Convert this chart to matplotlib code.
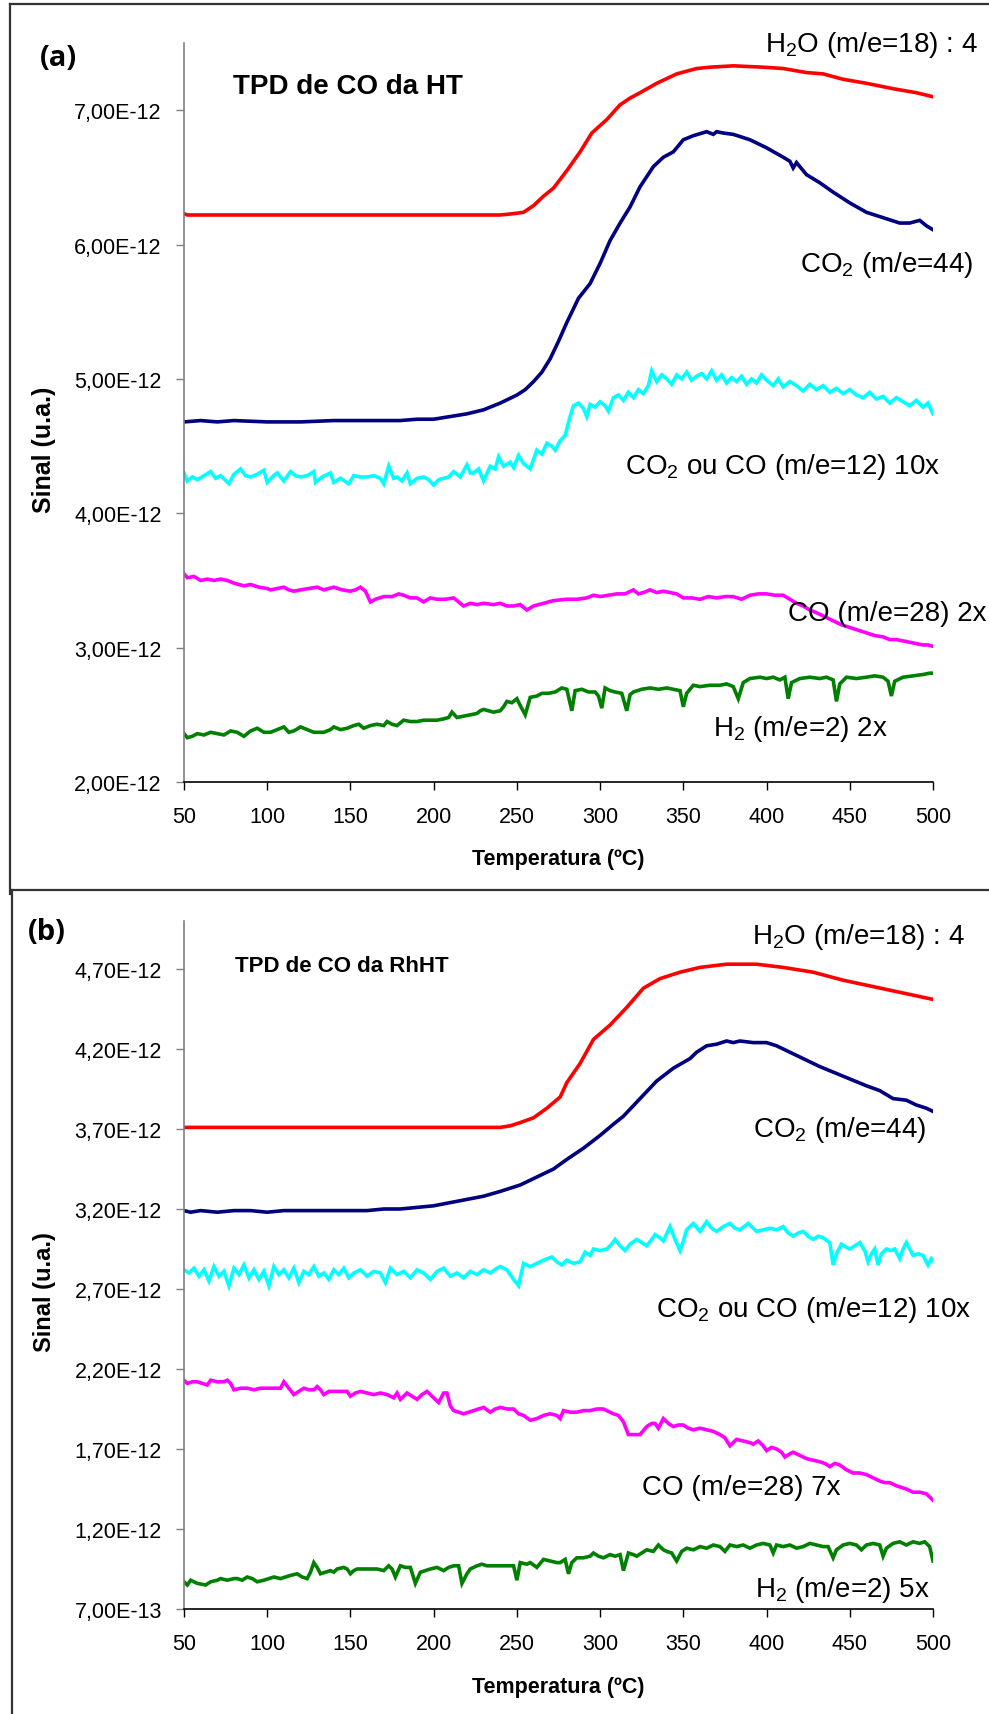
import matplotlib
matplotlib.use("Agg")
import matplotlib.pyplot as plt
from matplotlib.ticker import FuncFormatter, MultipleLocator
from matplotlib.lines import Line2D

plt.rcParams['font.family'] = ['Liberation Sans', 'DejaVu Sans']
plt.rcParams['mathtext.fontset'] = 'custom'
plt.rcParams['mathtext.rm'] = 'Liberation Sans'

# ---------------- Panel (a): TPD de CO da HT (values in 1e-12) ----------------
T_h2o_a = [50, 52, 100, 150, 200, 240, 248, 254, 260, 266, 272, 280, 288, 295, 304,
           312, 318, 324, 334, 346, 358, 366, 380, 398, 410, 424, 434, 446, 460, 476,
           490, 500]
h2o_a = [6.23, 6.22, 6.22, 6.22, 6.22, 6.22, 6.23, 6.24, 6.29, 6.36, 6.42, 6.55, 6.69,
         6.83, 6.93, 7.04, 7.09, 7.13, 7.20, 7.27, 7.31, 7.32, 7.33, 7.32, 7.31, 7.28,
         7.27, 7.23, 7.20, 7.16, 7.13, 7.10]

T_co2_a = [50, 60, 70, 80, 100, 120, 140, 160, 180, 190, 200, 210, 220, 230, 240, 250,
           255, 260, 265, 270, 275, 280, 287, 294, 300, 306, 312, 318, 324, 332, 338,
           344, 350, 356, 364, 368, 370, 374, 380, 390, 400, 410, 414, 416, 418, 424,
           432, 440, 450, 460, 470, 480, 486, 492, 496, 500]
co2_a = [4.68, 4.69, 4.68, 4.69, 4.68, 4.68, 4.69, 4.69, 4.69, 4.70, 4.70, 4.72, 4.74,
         4.77, 4.82, 4.88, 4.92, 4.98, 5.05, 5.15, 5.28, 5.42, 5.60, 5.71, 5.86, 6.03,
         6.16, 6.28, 6.43, 6.58, 6.65, 6.69, 6.78, 6.81, 6.84, 6.82, 6.84, 6.83, 6.82,
         6.78, 6.72, 6.65, 6.62, 6.57, 6.61, 6.52, 6.46, 6.39, 6.31, 6.24, 6.20, 6.16,
         6.16, 6.18, 6.14, 6.11]

T_m12_a = [50, 52, 55, 58, 62, 66, 69, 72, 77, 80, 84, 87, 90, 94, 98, 100, 103, 106,
           110, 114, 117, 120, 124, 128, 129, 133, 138, 140, 144, 149, 152, 156, 160,
           164, 168, 170, 173, 176, 178, 181, 184, 186, 190, 194, 197, 200, 203, 206,
           209, 212, 216, 220, 222, 224, 227, 230, 234, 237, 239, 242, 246, 248, 251,
           254, 258, 262, 265, 268, 271, 273, 276, 279, 282, 284, 287, 290, 292, 294,
           297, 300, 303, 305, 308, 311, 314, 317, 320, 323, 326, 329, 331, 334, 337,
           340, 343, 346, 349, 352, 355, 358, 361, 364, 367, 370, 373, 376, 379, 382,
           385, 388, 391, 394, 397, 400, 404, 407, 410, 414, 418, 422, 426, 430, 434,
           438, 442, 446, 450, 454, 458, 462, 466, 470, 474, 478, 482, 486, 490, 494,
           497, 500]
m12_a = [4.30, 4.24, 4.27, 4.25, 4.28, 4.31, 4.26, 4.28, 4.22, 4.29, 4.33, 4.28, 4.27,
         4.29, 4.32, 4.23, 4.27, 4.30, 4.24, 4.31, 4.28, 4.27, 4.28, 4.31, 4.23, 4.27,
         4.30, 4.23, 4.26, 4.22, 4.28, 4.27, 4.27, 4.28, 4.26, 4.22, 4.35, 4.26, 4.27,
         4.24, 4.30, 4.22, 4.26, 4.27, 4.25, 4.21, 4.25, 4.26, 4.27, 4.31, 4.27, 4.36,
         4.30, 4.30, 4.33, 4.24, 4.35, 4.33, 4.42, 4.35, 4.38, 4.34, 4.43, 4.37, 4.33,
         4.47, 4.44, 4.52, 4.50, 4.47, 4.54, 4.58, 4.72, 4.80, 4.82, 4.78, 4.72, 4.81,
         4.79, 4.83, 4.80, 4.76, 4.86, 4.88, 4.84, 4.90, 4.86, 4.92, 4.89, 4.95, 5.06,
         4.98, 5.03, 5.00, 4.96, 5.03, 5.00, 5.05, 4.99, 5.02, 5.04, 5.00, 5.06, 4.99,
         5.03, 4.97, 5.01, 4.98, 5.02, 4.96, 5.00, 4.97, 5.03, 4.99, 4.95, 5.00, 4.94,
         4.98, 4.95, 4.91, 4.96, 4.92, 4.95, 4.90, 4.93, 4.89, 4.92, 4.88, 4.86, 4.90,
         4.85, 4.87, 4.82, 4.86, 4.83, 4.80, 4.84, 4.79, 4.82, 4.74]

T_co_a = [50, 52, 56, 60, 64, 68, 72, 76, 80, 86, 90, 95, 100, 102, 106, 110, 113, 116,
          120, 125, 130, 134, 140, 145, 150, 153, 156, 159, 162, 165, 170, 175, 179,
          182, 186, 190, 194, 198, 202, 207, 212, 215, 218, 222, 226, 230, 236, 240,
          244, 248, 252, 256, 260, 266, 272, 280, 286, 292, 296, 300, 305, 310, 315,
          320, 323, 326, 330, 334, 338, 342, 346, 350, 355, 360, 365, 370, 375, 380,
          385, 390, 395, 400, 405, 410, 414, 418, 422, 426, 430, 435, 440, 445, 450,
          455, 460, 465, 470, 474, 478, 482, 486, 490, 494, 497, 500]
co_a = [3.55, 3.52, 3.53, 3.50, 3.51, 3.50, 3.51, 3.50, 3.48, 3.46, 3.47, 3.45, 3.44,
        3.43, 3.44, 3.45, 3.43, 3.42, 3.43, 3.44, 3.45, 3.43, 3.45, 3.43, 3.42, 3.43,
        3.45, 3.42, 3.34, 3.36, 3.38, 3.38, 3.40, 3.39, 3.37, 3.37, 3.34, 3.37, 3.36,
        3.36, 3.37, 3.34, 3.31, 3.33, 3.32, 3.33, 3.32, 3.33, 3.31, 3.31, 3.32, 3.28,
        3.31, 3.33, 3.35, 3.36, 3.36, 3.37, 3.39, 3.38, 3.39, 3.40, 3.40, 3.43, 3.40,
        3.41, 3.43, 3.41, 3.42, 3.41, 3.40, 3.37, 3.37, 3.36, 3.38, 3.37, 3.38, 3.38,
        3.36, 3.39, 3.40, 3.40, 3.39, 3.39, 3.36, 3.33, 3.31, 3.28, 3.26, 3.23, 3.20,
        3.17, 3.15, 3.13, 3.11, 3.09, 3.08, 3.06, 3.06, 3.05, 3.04, 3.03, 3.02, 3.02,
        3.01]

T_h2_a = [50, 52, 55, 58, 62, 66, 70, 74, 78, 82, 86, 90, 94, 98, 102, 106, 110, 113,
          116, 120, 124, 128, 134, 138, 140, 144, 148, 152, 155, 158, 162, 166, 170,
          172, 175, 178, 182, 186, 190, 194, 198, 202, 206, 209, 211, 214, 218, 222,
          226, 228, 230, 233, 236, 240, 242, 244, 247, 250, 252, 255, 258, 262, 265,
          269, 273, 277, 280, 283, 285, 289, 293, 297, 299, 301, 303, 306, 309, 313,
          316, 318, 320, 325, 330, 335, 340, 344, 348, 350, 352, 356, 360, 366, 372,
          376, 380, 383, 386, 390, 396, 400, 404, 408, 411, 413, 415, 420, 426, 432,
          436, 440, 442, 444, 448, 454, 460, 465, 470, 473, 475, 477, 482, 488, 494,
          498, 500]
h2_a = [2.36, 2.33, 2.34, 2.36, 2.35, 2.37, 2.36, 2.35, 2.38, 2.37, 2.34, 2.38, 2.40,
        2.37, 2.37, 2.39, 2.41, 2.37, 2.38, 2.41, 2.39, 2.37, 2.37, 2.39, 2.41, 2.39,
        2.40, 2.42, 2.43, 2.40, 2.42, 2.43, 2.42, 2.45, 2.43, 2.42, 2.46, 2.45, 2.45,
        2.46, 2.46, 2.46, 2.47, 2.48, 2.52, 2.48, 2.49, 2.50, 2.51, 2.53, 2.54, 2.53,
        2.52, 2.53, 2.56, 2.60, 2.59, 2.62, 2.57, 2.50, 2.63, 2.64, 2.66, 2.66, 2.67,
        2.70, 2.69, 2.53, 2.68, 2.69, 2.67, 2.67, 2.64, 2.55, 2.70, 2.68, 2.67, 2.66,
        2.53, 2.65, 2.67, 2.69, 2.70, 2.69, 2.70, 2.69, 2.68, 2.56, 2.66, 2.72, 2.71,
        2.72, 2.72, 2.73, 2.71, 2.62, 2.74, 2.77, 2.78, 2.77, 2.78, 2.76, 2.78, 2.62,
        2.74, 2.77, 2.78, 2.77, 2.78, 2.76, 2.60, 2.73, 2.78, 2.77, 2.78, 2.79, 2.78,
        2.75, 2.64, 2.75, 2.78, 2.79, 2.80, 2.81, 2.81]

# ---------------- Panel (b): TPD de CO da RhHT (values in 1e-12) ----------------
T_h2o_b = [50, 100, 150, 200, 240, 246, 252, 260, 268, 276, 280, 288, 296, 306, 316,
           326, 336, 348, 360, 376, 394, 410, 428, 446, 464, 482, 500]
h2o_b = [3.71, 3.71, 3.71, 3.71, 3.71, 3.72, 3.74, 3.77, 3.83, 3.90, 3.99, 4.11, 4.26,
         4.35, 4.46, 4.58, 4.64, 4.68, 4.71, 4.73, 4.73, 4.71, 4.68, 4.63, 4.59, 4.55,
         4.51]

T_co2_b = [50, 54, 60, 70, 80, 90, 100, 110, 120, 130, 140, 150, 160, 170, 180, 190,
           200, 210, 220, 230, 240, 252, 260, 272, 280, 290, 300, 308, 314, 324, 334,
           344, 354, 358, 364, 370, 376, 380, 384, 392, 400, 406, 412, 420, 432, 446,
           460, 468, 476, 484, 490, 496, 500]
co2_b = [3.19, 3.18, 3.19, 3.18, 3.19, 3.19, 3.18, 3.19, 3.19, 3.19, 3.19, 3.19, 3.19,
         3.20, 3.20, 3.21, 3.22, 3.24, 3.26, 3.28, 3.31, 3.35, 3.39, 3.45, 3.51, 3.58,
         3.66, 3.73, 3.78, 3.89, 4.00, 4.08, 4.14, 4.18, 4.22, 4.23, 4.25, 4.24, 4.25,
         4.24, 4.24, 4.22, 4.19, 4.15, 4.09, 4.03, 3.97, 3.94, 3.89, 3.88, 3.85, 3.83,
         3.81]

T_m12_b = [50, 53, 56, 59, 62, 65, 68, 71, 74, 77, 80, 83, 86, 89, 92, 95, 98, 101,
           104, 107, 110, 113, 116, 119, 122, 125, 128, 131, 134, 137, 140, 143, 146,
           149, 152, 156, 160, 164, 168, 171, 174, 178, 182, 186, 190, 194, 198, 202,
           206, 210, 214, 218, 222, 226, 230, 234, 238, 240, 244, 248, 251, 254, 258,
           262, 266, 271, 274, 277, 280, 284, 288, 291, 294, 296, 300, 304, 307, 309,
           312, 315, 318, 322, 325, 328, 331, 333, 336, 338, 342, 345, 348, 350, 352,
           356, 360, 364, 367, 370, 374, 378, 381, 384, 389, 392, 394, 398, 402, 406,
           410, 413, 416, 419, 422, 425, 428, 431, 434, 438, 440, 442, 445, 448, 450,
           453, 456, 459, 461, 463, 465, 467, 469, 472, 475, 477, 480, 482, 484, 486,
           488, 491, 494, 497, 499, 500]
m12_b = [2.82, 2.80, 2.83, 2.78, 2.82, 2.75, 2.84, 2.78, 2.81, 2.72, 2.83, 2.79, 2.85,
         2.77, 2.82, 2.76, 2.81, 2.72, 2.84, 2.79, 2.82, 2.77, 2.83, 2.74, 2.81, 2.79,
         2.84, 2.78, 2.80, 2.76, 2.82, 2.79, 2.83, 2.77, 2.80, 2.82, 2.78, 2.81, 2.80,
         2.74, 2.83, 2.79, 2.81, 2.77, 2.82, 2.80, 2.76, 2.81, 2.83, 2.78, 2.80, 2.77,
         2.81, 2.79, 2.82, 2.80, 2.83, 2.84, 2.82, 2.76, 2.72, 2.86, 2.84, 2.86, 2.88,
         2.90, 2.87, 2.85, 2.88, 2.86, 2.87, 2.93, 2.91, 2.95, 2.94, 2.95, 2.98, 3.01,
         2.97, 2.94, 2.98, 3.01, 2.99, 2.97, 3.01, 3.04, 3.02, 3.00, 3.09, 3.01, 2.94,
         3.00, 3.07, 3.11, 3.06, 3.12, 3.08, 3.06, 3.09, 3.11, 3.08, 3.07, 3.11, 3.08,
         3.06, 3.07, 3.08, 3.07, 3.09, 3.05, 3.03, 3.05, 3.06, 3.03, 3.01, 3.03, 3.02,
         2.99, 2.85, 2.92, 2.98, 2.96, 2.95, 2.97, 2.99, 2.94, 2.87, 2.92, 2.95, 2.85,
         2.92, 2.95, 2.94, 2.95, 2.89, 2.95, 2.99, 2.95, 2.91, 2.92, 2.91, 2.85, 2.89,
         2.88]

T_co_b = [50, 52, 55, 58, 61, 64, 66, 70, 74, 76, 78, 80, 84, 88, 92, 96, 100, 104, 108,
          110, 113, 116, 119, 122, 125, 128, 130, 132, 134, 137, 140, 144, 148, 150, 153,
          156, 160, 164, 168, 172, 176, 178, 180, 184, 187, 190, 193, 196, 200, 203, 206,
          208, 210, 212, 215, 218, 221, 224, 227, 230, 234, 237, 240, 244, 248, 251, 254,
          258, 262, 266, 270, 274, 276, 278, 282, 286, 290, 294, 298, 302, 306, 308, 311,
          314, 317, 320, 324, 328, 331, 333, 335, 338, 341, 344, 347, 350, 353, 356, 360,
          364, 368, 372, 375, 378, 382, 386, 390, 392, 395, 398, 400, 403, 406, 409, 411,
          414, 416, 420, 424, 428, 432, 435, 438, 441, 444, 448, 452, 456, 460, 464, 468,
          471, 474, 478, 481, 484, 488, 492, 496, 498, 500]
co_b = [2.13, 2.11, 2.12, 2.12, 2.11, 2.10, 2.13, 2.12, 2.12, 2.13, 2.11, 2.07, 2.08,
        2.08, 2.07, 2.08, 2.08, 2.08, 2.08, 2.12, 2.08, 2.04, 2.06, 2.08, 2.07, 2.07,
        2.09, 2.07, 2.04, 2.06, 2.06, 2.06, 2.06, 2.03, 2.05, 2.06, 2.05, 2.04, 2.05,
        2.04, 2.02, 2.05, 2.01, 2.05, 2.03, 2.01, 2.04, 2.06, 2.02, 1.99, 2.05, 2.05,
        1.97, 1.94, 1.93, 1.92, 1.93, 1.94, 1.95, 1.96, 1.93, 1.95, 1.96, 1.95, 1.95,
        1.92, 1.91, 1.88, 1.89, 1.91, 1.92, 1.91, 1.89, 1.94, 1.93, 1.93, 1.94, 1.94,
        1.95, 1.95, 1.93, 1.92, 1.91, 1.87, 1.79, 1.79, 1.79, 1.84, 1.86, 1.86, 1.83,
        1.89, 1.86, 1.84, 1.85, 1.85, 1.83, 1.82, 1.83, 1.82, 1.81, 1.79, 1.77, 1.72,
        1.76, 1.75, 1.74, 1.73, 1.75, 1.72, 1.69, 1.71, 1.70, 1.68, 1.65, 1.67, 1.68,
        1.66, 1.64, 1.63, 1.62, 1.61, 1.59, 1.61, 1.60, 1.57, 1.55, 1.55, 1.54, 1.52,
        1.50, 1.49, 1.49, 1.47, 1.46, 1.45, 1.43, 1.43, 1.42, 1.40, 1.38]

T_h2_b = [50, 52, 54, 58, 63, 66, 70, 72, 76, 80, 82, 85, 88, 91, 94, 98, 101, 104, 108,
          111, 114, 118, 121, 124, 126, 128, 130, 132, 135, 138, 140, 142, 146, 148, 150,
          152, 154, 158, 162, 166, 170, 173, 175, 177, 180, 183, 186, 189, 192, 195, 198,
          202, 206, 209, 212, 215, 217, 220, 222, 226, 229, 232, 236, 240, 244, 248, 250,
          252, 256, 258, 262, 266, 270, 274, 276, 279, 281, 283, 286, 290, 294, 296, 299,
          302, 306, 309, 312, 314, 317, 320, 322, 325, 328, 332, 335, 338, 340, 343, 346,
          349, 352, 356, 360, 364, 368, 372, 375, 378, 382, 386, 390, 394, 398, 402, 404,
          406, 410, 414, 418, 422, 426, 430, 434, 437, 440, 442, 446, 450, 454, 457, 460,
          464, 468, 470, 472, 476, 480, 484, 488, 492, 495, 498, 500]
h2_b = [0.87, 0.85, 0.88, 0.86, 0.85, 0.87, 0.88, 0.89, 0.88, 0.89, 0.89, 0.88, 0.90,
        0.89, 0.87, 0.88, 0.89, 0.90, 0.89, 0.90, 0.91, 0.92, 0.90, 0.89, 0.93, 0.99,
        0.96, 0.92, 0.93, 0.94, 0.93, 0.95, 0.96, 0.95, 0.92, 0.94, 0.95, 0.95, 0.95,
        0.95, 0.94, 0.97, 0.95, 0.90, 0.97, 0.96, 0.96, 0.86, 0.93, 0.94, 0.95, 0.96,
        0.94, 0.96, 0.97, 0.97, 0.86, 0.92, 0.95, 0.97, 0.98, 0.97, 0.97, 0.97, 0.97,
        0.97, 0.88, 0.99, 0.98, 0.99, 0.96, 1.01, 1.00, 0.99, 0.99, 1.01, 0.92, 0.99,
        1.02, 1.02, 1.03, 1.05, 1.03, 1.02, 1.04, 1.03, 1.04, 0.94, 1.05, 1.04, 1.03,
        1.05, 1.07, 1.06, 1.10, 1.07, 1.06, 1.05, 1.00, 1.06, 1.08, 1.07, 1.09, 1.08,
        1.10, 1.09, 1.06, 1.10, 1.09, 1.10, 1.08, 1.10, 1.11, 1.10, 1.05, 1.10, 1.09,
        1.10, 1.08, 1.09, 1.11, 1.10, 1.09, 1.09, 1.02, 1.07, 1.10, 1.11, 1.10, 1.07,
        1.10, 1.11, 1.10, 1.03, 1.08, 1.11, 1.12, 1.10, 1.12, 1.11, 1.12, 1.09, 1.00]

# Labels
temp_ticks = [50, 100, 150, 200, 250, 300, 350, 400, 450, 500]
xlabel = "Temperatura (ºC)"
ylabel = "Sinal (u.a.)"
sub2 = r"$_\mathregular{2}$"
labels_a = ["H" + sub2 + "O (m/e=18) : 4", "CO" + sub2 + " (m/e=44)",
            "CO" + sub2 + " ou CO (m/e=12) 10x", "CO (m/e=28) 2x", "H" + sub2 + " (m/e=2) 2x"]
labels_b = ["H" + sub2 + "O (m/e=18) : 4", "CO" + sub2 + " (m/e=44)",
            "CO" + sub2 + " ou CO (m/e=12) 10x", "CO (m/e=28) 7x", "H" + sub2 + " (m/e=2) 5x"]

colors = ["#FF0000", "#000080", "#00FFFF", "#FF00FF", "#008000"]

W, H = 989, 1715
fig = plt.figure(figsize=(W / 100, H / 100), dpi=100)


def fx(px):
    return px / W


def fy(py):
    return 1 - py / H


def sci_fmt(v, pos):
    return f"{v:.2E}".replace(".", ",")


def make_axes(top, bottom, ymin, ymax, ystep):
    ax = fig.add_axes([fx(184), fy(bottom), (933 - 184) / W, (bottom - top) / H])
    ax.set_xlim(50, 500)
    ax.set_ylim(ymin * 1e-12, ymax * 1e-12)
    ax.set_xticks(temp_ticks)
    ax.yaxis.set_major_locator(MultipleLocator(ystep * 1e-12))
    ax.yaxis.set_major_formatter(FuncFormatter(sci_fmt))
    for s in ("top", "right"):
        ax.spines[s].set_visible(False)
    ax.spines["left"].set_color("#808080")
    ax.spines["left"].set_linewidth(1.2)
    ax.spines["bottom"].set_color("#000000")
    ax.spines["bottom"].set_linewidth(1.2)
    ax.tick_params(axis="x", direction="out", length=6, width=1.0, pad=11,
                   labelsize=15.5, colors="black")
    ax.tick_params(axis="y", direction="out", length=6, width=1.0, pad=10,
                   labelsize=15.5, color="#808080", labelcolor="black")
    return ax


def plot_series(ax, series):
    for (t, v), c in zip(series, colors):
        ax.plot(t, [y * 1e-12 for y in v], color=c, lw=2.6, solid_joinstyle="miter")


ax_a = make_axes(44, 783, 2.0, 7.5, 1.0)
plot_series(ax_a, [(T_h2o_a, h2o_a), (T_co2_a, co2_a), (T_m12_a, m12_a),
                   (T_co_a, co_a), (T_h2_a, h2_a)])

ax_b = make_axes(922, 1610, 0.7, 5.0, 0.5)
ax_b.set_yticks([v * 1e-12 for v in [0.7, 1.2, 1.7, 2.2, 2.7, 3.2, 3.7, 4.2, 4.7]])
plot_series(ax_b, [(T_h2o_b, h2o_b), (T_co2_b, co2_b), (T_m12_b, m12_b),
                   (T_co_b, co_b), (T_h2_b, h2_b)])

# Panel frames
frame_kw = dict(color="#333333", lw=1.6, transform=fig.transFigure)
fig.add_artist(Line2D([fx(10), fx(10)], [fy(5), fy(895)], **frame_kw))
fig.add_artist(Line2D([fx(10), fx(989)], [fy(5), fy(5)], **frame_kw))
fig.add_artist(Line2D([fx(12), fx(989)], [fy(891), fy(891)], **frame_kw))
fig.add_artist(Line2D([fx(12), fx(12)], [fy(891), fy(1715)], **frame_kw))

# Axis titles
fig.text(fx(558), fy(860), xlabel, fontsize=15.5, fontweight="bold",
         ha="center", va="center")
fig.text(fx(558), fy(1688), xlabel, fontsize=15.5, fontweight="bold",
         ha="center", va="center")
fig.text(fx(44), fy(450), ylabel, fontsize=18, fontweight="bold",
         ha="center", va="center", rotation=90)
fig.text(fx(44), fy(1292), ylabel, fontsize=17, fontweight="bold",
         ha="center", va="center", rotation=90)

# Panel letters and titles
fig.text(fx(40), fy(58), "(a)", fontsize=21, fontweight="bold", ha="left", va="center",
         family=["Open Sans", "DejaVu Sans"])
fig.text(fx(28), fy(932), "(b)", fontsize=21, fontweight="bold", ha="left", va="center",
         family=["Open Sans", "DejaVu Sans"])
fig.text(fx(233), fy(87), "TPD de CO da HT", fontsize=20, fontweight="bold",
         ha="left", va="center")
fig.text(fx(235), fy(967), "TPD de CO da RhHT", fontsize=16, fontweight="bold",
         ha="left", va="center")

# Series labels
pos_a = [(765, 45), (800, 265), (625, 467), (788, 614), (713, 729)]
pos_b = [(752, 937), (753, 1130), (656, 1310), (642, 1488), (755, 1590)]
for lab, (px, py) in zip(labels_a, pos_a):
    fig.text(fx(px), fy(py), lab, fontsize=20, ha="left", va="center")
for lab, (px, py) in zip(labels_b, pos_b):
    fig.text(fx(px), fy(py), lab, fontsize=20, ha="left", va="center")

fig.savefig("out.png", dpi=100, facecolor="white")
